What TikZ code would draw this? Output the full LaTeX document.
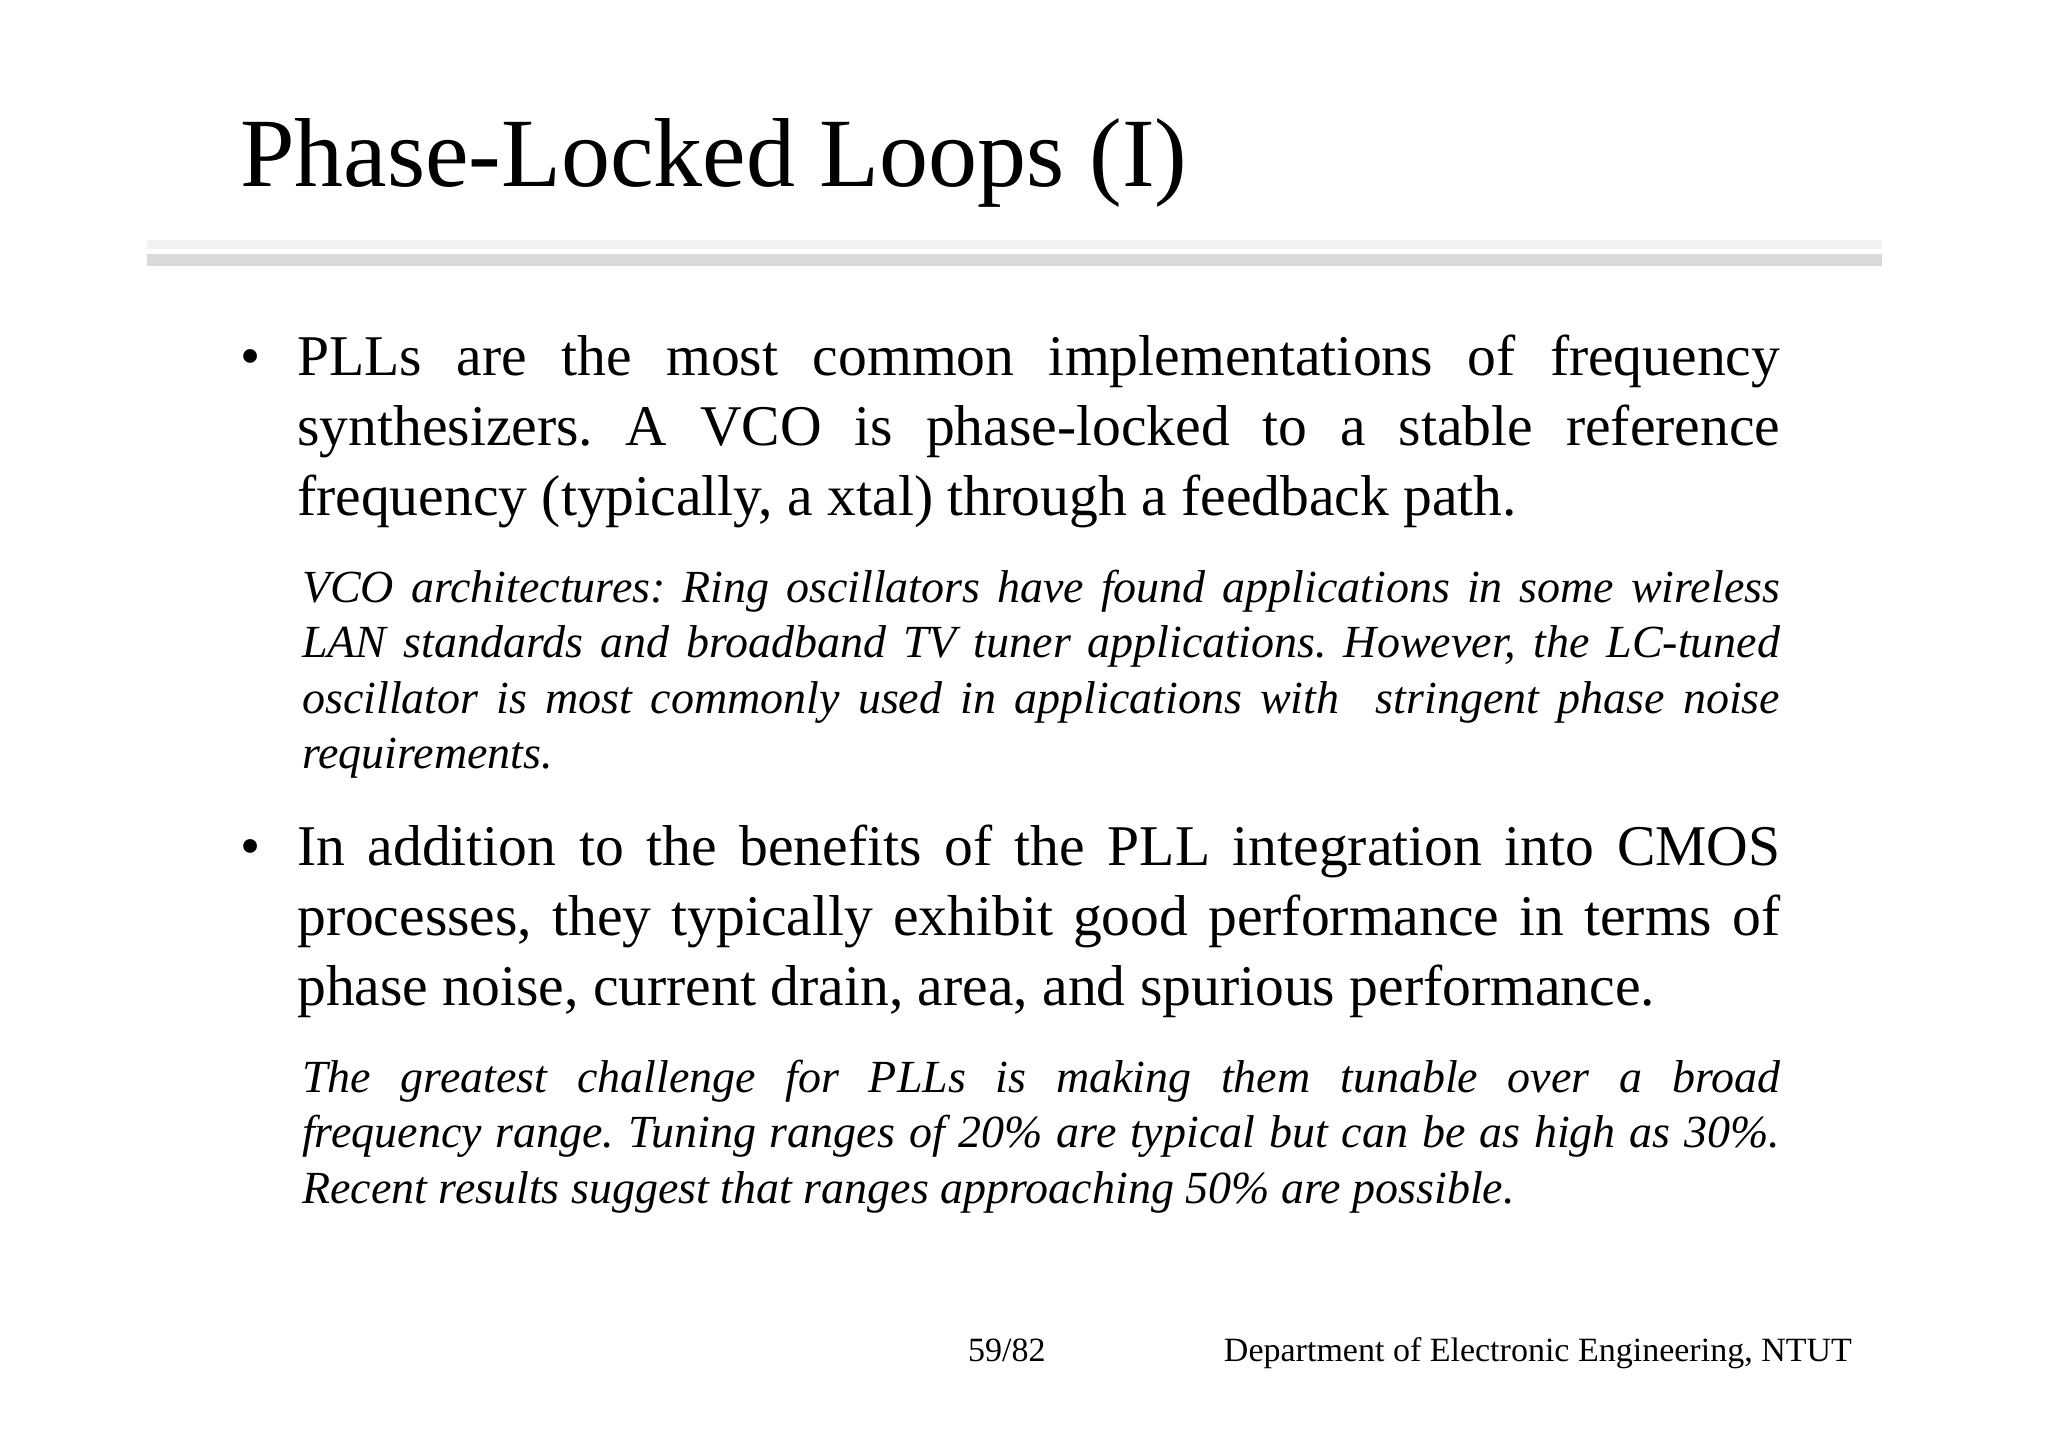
\documentclass[tikz,border=0pt]{standalone}
\usepackage{fontspec}
\setmainfont{Liberation Serif}
\definecolor{ruleA}{HTML}{F2F2F2}
\definecolor{ruleB}{HTML}{D9D9D9}
\tikzset{
  para/.style={anchor=base west, inner sep=0pt},
}
\newcommand{\bodyfont}{\fontsize{57.6}{70}\selectfont}
\newcommand{\notefont}{\fontsize{46}{55.5}\selectfont\itshape}
\hyphenpenalty=10000
\frenchspacing
\begin{document}
\begin{tikzpicture}[x=1pt,y=-1pt]
\useasboundingbox[fill=white] (0,0) rectangle (2048,1447);
\node[para] (title) at (240,187) {\fontsize{98}{110}\selectfont Phase-Locked Loops (I)};
\fill[ruleA] (147,240) rectangle (1882,249);
\fill[ruleB] (147,254) rectangle (1882,266);
\node[para] (b1) at (240,375) {\bodyfont •};
\node[para] (p1) at (297,375) {\parbox[t]{1483pt}{\bodyfont\parindent0pt PLLs are the most common implementations of frequency synthesizers. A VCO is phase-locked to a stable reference frequency (typically, a xtal) through a feedback path.}};
\node[para] (n1) at (302,602) {\parbox[t]{1478pt}{\notefont\parindent0pt VCO architectures: Ring oscillators have found applications in some wireless LAN standards and broadband TV tuner applications. However, the LC-tuned oscillator is most commonly used in applications with\ \ stringent phase noise requirements.}};
\node[para] (b2) at (240,865) {\bodyfont •};
\node[para] (p2) at (297,865) {\parbox[t]{1483pt}{\bodyfont\parindent0pt In addition to the benefits of the PLL integration into CMOS processes, they typically exhibit good performance in terms of phase noise, current drain, area, and spurious performance.}};
\node[para] (n2) at (302,1092) {\parbox[t]{1478pt}{\notefont\parindent0pt The greatest challenge for PLLs is making them tunable over a broad\linebreak frequency range. Tuning ranges of 20\% are typical but can be as high as 30\%.\linebreak Recent results suggest that ranges approaching 50\% are possible.}};
\node[para] (pg) at (968,1361) {\fontsize{34}{40}\selectfont 59/82};
\node[anchor=base east, inner sep=0pt] (dept) at (1852,1361) {\fontsize{34}{40}\selectfont Department of Electronic Engineering, NTUT};
\end{tikzpicture}
\end{document}
